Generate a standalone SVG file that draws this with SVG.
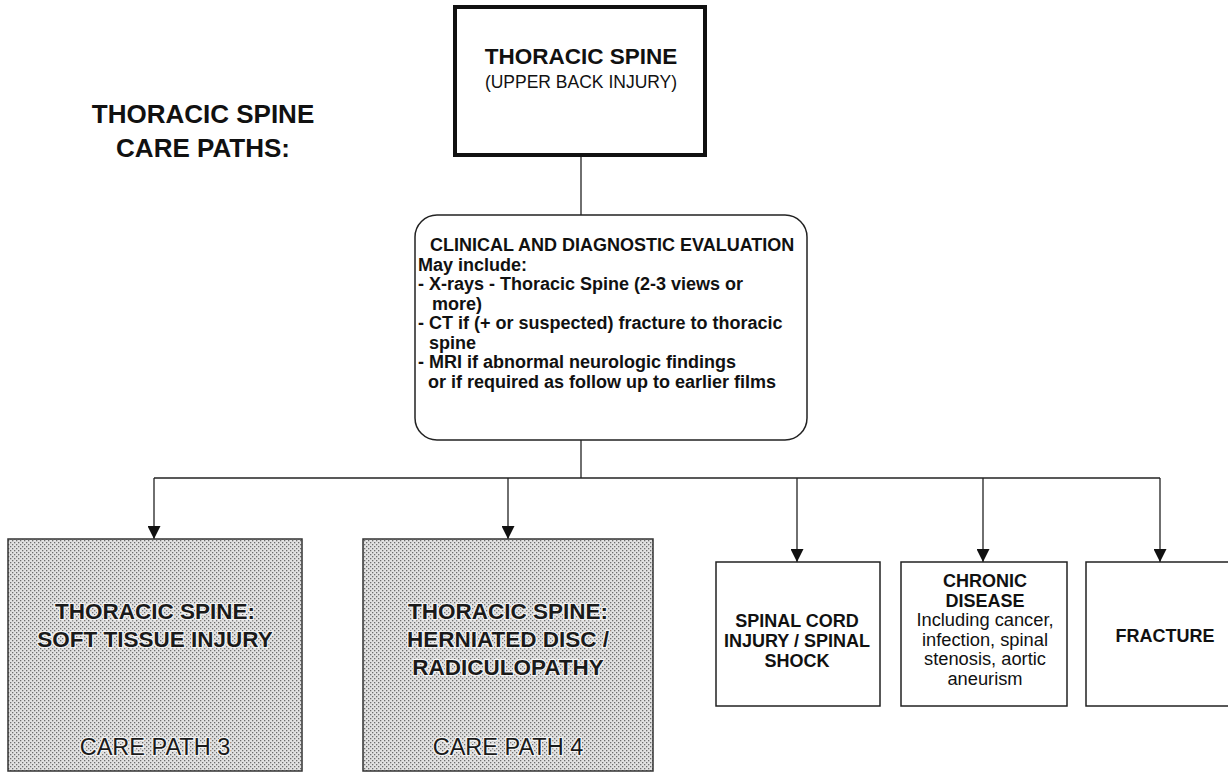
<svg xmlns="http://www.w3.org/2000/svg" width="1228" height="772" viewBox="0 0 1228 772">
  <style>
    text { font-family: "Liberation Sans", Arial, sans-serif; fill: #111; }
    .b { font-weight: bold; }
    .box { fill: #fff; stroke: #222; stroke-width: 1.5; }
    .shade { fill: url(#dots); stroke: #333; stroke-width: 1.5; }
    .halo { paint-order: stroke; stroke: #f4f4f4; stroke-width: 2.5; stroke-linejoin: round; fill: #1a1a1a; }
    .wire { fill: none; stroke: #222; stroke-width: 1.3; }
  </style>
  <defs>
    <pattern id="dots" width="4" height="4" patternUnits="userSpaceOnUse">
      <rect width="4" height="4" fill="#e2e2e2"/>
      <rect x="0" y="0" width="1.3" height="1.3" fill="#6e6e6e"/>
      <rect x="2" y="2" width="1.3" height="1.3" fill="#6e6e6e"/>
    </pattern>
    <marker id="arrow" markerWidth="13" markerHeight="13" refX="13" refY="6.5" orient="auto" markerUnits="userSpaceOnUse">
      <path d="M0,0 L13,6.5 L0,13 Z" fill="#111"/>
    </marker>
  </defs>

  <rect width="1228" height="772" fill="#fff"/>

  <!-- heading -->
  <g id="heading" font-size="26" text-anchor="middle">
    <text x="203" y="123" class="b">THORACIC SPINE</text>
    <text x="203" y="157" class="b">CARE PATHS:</text>
  </g>

  <!-- connectors -->
  <g id="connectors">
    <line class="wire" x1="581" y1="156" x2="581" y2="215"/>
    <line class="wire" x1="581" y1="440" x2="581" y2="478"/>
    <line class="wire" x1="154" y1="478" x2="1160" y2="478"/>
    <line class="wire" x1="154" y1="478" x2="154" y2="539" marker-end="url(#arrow)"/>
    <line class="wire" x1="508" y1="478" x2="508" y2="539" marker-end="url(#arrow)"/>
    <line class="wire" x1="797" y1="478" x2="797" y2="562" marker-end="url(#arrow)"/>
    <line class="wire" x1="983" y1="478" x2="983" y2="562" marker-end="url(#arrow)"/>
    <line class="wire" x1="1160" y1="478" x2="1160" y2="562" marker-end="url(#arrow)"/>
  </g>

  <!-- root node -->
  <g id="root">
    <rect x="455" y="7" width="250" height="148" fill="#fff" stroke="#111" stroke-width="4"/>
    <text x="581" y="64" text-anchor="middle" class="b" font-size="22.5">THORACIC SPINE</text>
    <text x="581" y="88" text-anchor="middle" font-size="17.5">(UPPER BACK INJURY)</text>
  </g>

  <!-- evaluation node -->
  <g id="evaluation" font-size="18">
    <rect class="box" x="415" y="215" width="392" height="225" rx="22" ry="22"/>
    <text x="430" y="251" class="b">CLINICAL AND DIAGNOSTIC EVALUATION</text>
    <text x="418" y="270.5" class="b">May include:</text>
    <text x="418" y="290" class="b">- X-rays - Thoracic Spine (2-3 views or</text>
    <text x="432" y="309.5" class="b">more)</text>
    <text x="418" y="329" class="b">- CT if (+ or suspected) fracture to thoracic</text>
    <text x="429" y="348.5" class="b">spine</text>
    <text x="418" y="368" class="b">- MRI if abnormal neurologic findings</text>
    <text x="428" y="387.5" class="b">or if required as follow up to earlier films</text>
  </g>

  <!-- care path 3 -->
  <g id="soft-tissue" text-anchor="middle">
    <rect class="shade" x="8" y="539" width="294" height="232"/>
    <text x="155" y="619" class="b halo" font-size="22.5">THORACIC SPINE:</text>
    <text x="155" y="647" class="b halo" font-size="22.5">SOFT TISSUE INJURY</text>
    <text x="155" y="755" class="halo" font-size="23.5">CARE PATH 3</text>
  </g>

  <!-- care path 4 -->
  <g id="herniated-disc" text-anchor="middle">
    <rect class="shade" x="363" y="539" width="290" height="232"/>
    <text x="508" y="619" class="b halo" font-size="22.5">THORACIC SPINE:</text>
    <text x="508" y="647" class="b halo" font-size="22.5">HERNIATED DISC /</text>
    <text x="508" y="675" class="b halo" font-size="22.5">RADICULOPATHY</text>
    <text x="508" y="755" class="halo" font-size="23.5">CARE PATH 4</text>
  </g>

  <!-- spinal cord injury -->
  <g id="spinal-cord" text-anchor="middle" font-size="18">
    <rect class="box" x="716" y="562" width="164" height="144"/>
    <text x="797" y="627" class="b">SPINAL CORD</text>
    <text x="797" y="647" class="b">INJURY / SPINAL</text>
    <text x="797" y="667" class="b">SHOCK</text>
  </g>

  <!-- chronic disease -->
  <g id="chronic" text-anchor="middle" font-size="18">
    <rect class="box" x="901" y="562" width="166" height="144"/>
    <text x="985" y="587" class="b">CHRONIC</text>
    <text x="985" y="607" class="b">DISEASE</text>
    <text x="985" y="626" font-size="18.3">Including cancer,</text>
    <text x="985" y="646" font-size="18.3">infection, spinal</text>
    <text x="985" y="665" font-size="18.3">stenosis, aortic</text>
    <text x="985" y="685" font-size="18.3">aneurism</text>
  </g>

  <!-- fracture -->
  <g id="fracture" text-anchor="middle" font-size="18">
    <rect class="box" x="1086" y="562" width="160" height="144"/>
    <text x="1165" y="642" class="b">FRACTURE</text>
  </g>
</svg>
